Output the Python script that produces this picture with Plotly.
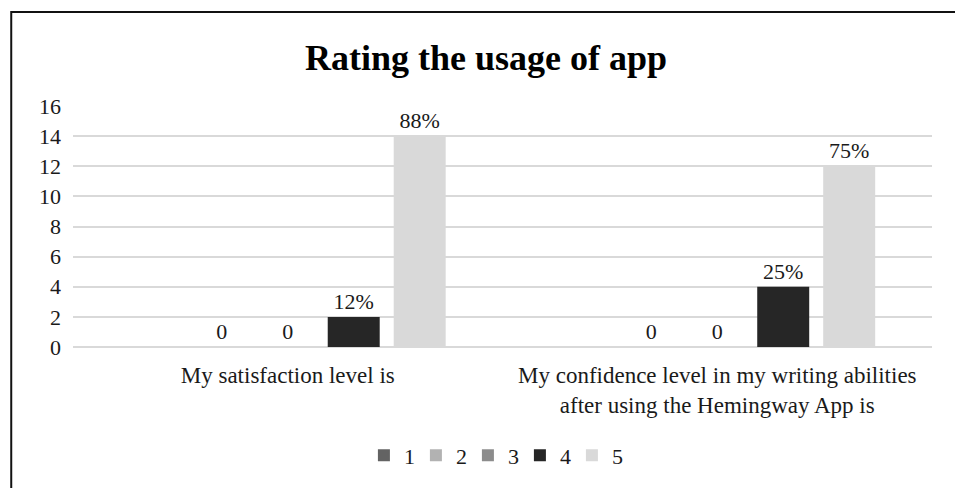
"""Rating the usage of app - grouped bar chart"""

import plotly.graph_objects as go

# 데이터
categories = [
    "My satisfaction level is",
    "My confidence level in my writing abilities<br>after using the Hemingway App is",
]
series_names = ["1", "2", "3", "4", "5"]
series_values = [
    [0, 0],
    [0, 0],
    [0, 0],
    [2, 4],
    [14, 12],
]
series_labels = [
    ["", ""],
    ["0", "0"],
    ["0", "0"],
    ["12%", "25%"],
    ["88%", "75%"],
]
series_colors = ["#636363", "#b2b2b2", "#8c8c8c", "#262626", "#d9d9d9"]
y_ticks = [0, 2, 4, 6, 8, 10, 12, 14, 16]

FONT = "Liberation Serif"
TEXT_COLOR = "#1a1a1a"

fig = go.Figure()

for name, values, labels, color in zip(series_names, series_values, series_labels, series_colors):
    fig.add_trace(
        go.Bar(
            x=categories,
            y=values,
            name=name,
            text=labels,
            textposition="outside",
            cliponaxis=False,
            textfont={"family": FONT, "size": 22, "color": TEXT_COLOR},
            marker={"color": color, "line": {"width": 0}},
        )
    )

# 외곽 테두리 (좌측/상단만 보임)
fig.add_shape(
    type="rect",
    xref="paper",
    yref="paper",
    x0=-0.0719,
    x1=2.0,
    y0=-2.0,
    y1=1.39,
    line={"color": "#111111", "width": 2},
    layer="below",
)

fig.update_layout(
    title={
        "text": "<b>Rating the usage of app</b>",
        "x": 486 / 955,
        "xanchor": "center",
        "y": 1 - 57 / 488,
        "yanchor": "middle",
        "font": {"family": FONT, "size": 36, "color": "#000000"},
    },
    barmode="group",
    bargap=0.232,
    bargroupgap=0.212,
    plot_bgcolor="white",
    paper_bgcolor="white",
    width=955,
    height=488,
    margin={"l": 73, "r": 23, "t": 106, "b": 138},
    font={"family": FONT, "size": 22, "color": TEXT_COLOR},
    showlegend=True,
    legend={
        "orientation": "h",
        "x": 0.49,
        "xanchor": "center",
        "y": -0.45,
        "yanchor": "middle",
        "font": {"family": FONT, "size": 22, "color": TEXT_COLOR},
        "entrywidth": 7,
        "entrywidthmode": "pixels",
        "traceorder": "normal",
    },
)

fig.update_yaxes(
    range=[0, 16],
    tickvals=y_ticks,
    showgrid=True,
    gridcolor="#d9d9d9",
    gridwidth=1.6,
    zeroline=True,
    zerolinecolor="#d9d9d9",
    zerolinewidth=1.6,
    showline=False,
    ticks="",
    ticklabelstandoff=11,
    tickfont={"family": FONT, "size": 22, "color": TEXT_COLOR},
)

fig.update_xaxes(
    showline=False,
    ticks="",
    ticklabelstandoff=12,
    tickfont={"family": FONT, "size": 23, "color": TEXT_COLOR},
)

fig.write_html(
    "out.html",
    config={"displayModeBar": False},
    post_script="document.body.style.margin='0';",
)
